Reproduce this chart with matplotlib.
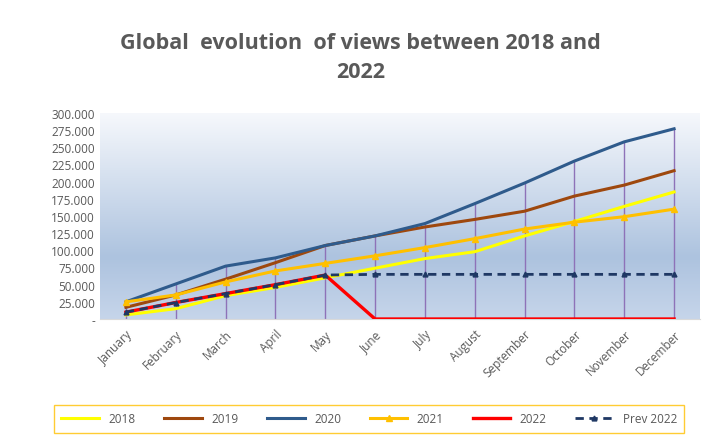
import numpy as np
import matplotlib
matplotlib.use("Agg")
import matplotlib.pyplot as plt
from matplotlib.colors import LinearSegmentedColormap
from matplotlib.ticker import FuncFormatter

months = ["January", "February", "March", "April", "May", "June", "July",
          "August", "September", "October", "November", "December"]

views_2018 = [6000, 15000, 34000, 46000, 60000, 74000, 88000, 98000, 121000, 142000, 164000, 185000]
views_2019 = [17000, 35000, 58000, 82000, 107000, 121000, 134000, 145000, 157000, 179000, 195000, 216000]
views_2020 = [25000, 51000, 77000, 89000, 107000, 121000, 139000, 168000, 198000, 230000, 258000, 277000]
views_2021 = [25000, 35000, 54000, 70000, 81000, 92000, 104000, 117000, 131000, 141000, 149000, 160000]
views_2022 = [10000, 24000, 37000, 50000, 64000, 0, 0, 0, 0, 0, 0, 0]
prev_2022 = [10000, 24000, 37000, 50000, 64000, 65000, 65000, 65000, 65000, 65000, 65000, 65000]

yticks = list(range(0, 300001, 25000))

grey = "#595959"
plt.rcParams["font.family"] = ["Open Sans", "DejaVu Sans"]

fig = plt.figure(figsize=(7.09, 4.39), dpi=100)
ax = fig.add_axes([100 / 709, 119 / 439, 600 / 709, 206 / 439])

x = np.arange(len(months))

# gradient background of the plot area
grad = LinearSegmentedColormap.from_list(
    "bg", [(0, "#c6d5ea"), (0.3, "#adc3df"), (1, "#f6f8fc")])
ax.imshow(np.linspace(0, 1, 256).reshape(-1, 1), cmap=grad, aspect="auto",
          extent=[-0.52, 11.52, 0, 300000], origin="lower", zorder=0)

# drop lines
tops = np.max([views_2018, views_2019, views_2020, views_2021, views_2022, prev_2022], axis=0)
ax.vlines(x, 0, tops, color="#8e72b8", lw=1, zorder=1)

ax.plot(x, views_2018, color="#ffff00", lw=2.2, label="2018", zorder=3)
ax.plot(x, views_2019, color="#9e480e", lw=2.2, label="2019", zorder=3)
ax.plot(x, views_2020, color="#2f5b8c", lw=2.2, label="2020", zorder=3)
ax.plot(x, views_2021, color="#ffc000", lw=2.2, marker="^", ms=4, label="2021", zorder=3)
ax.plot(x, views_2022, color="#ff0000", lw=2.4, label="2022", zorder=4)
ax.plot(x, prev_2022, color="#1f3864", lw=2, ls=(0, (3, 2)), marker="^", ms=3.5,
        label="Prev 2022", zorder=5)

ax.set_xlim(-0.52, 11.52)
ax.set_ylim(0, 300000)
ax.set_yticks(yticks)
ax.yaxis.set_major_formatter(FuncFormatter(
    lambda v, p: "-" if v == 0 else f"{int(v):,}".replace(",", ".")))
ax.set_xticks(x)
ax.set_xticklabels(months, rotation=45, ha="right", rotation_mode="anchor")
ax.tick_params(axis="both", length=0, labelsize=8.5, colors=grey)
ax.tick_params(axis="x", pad=6)
for s in ["top", "right", "left"]:
    ax.spines[s].set_visible(False)
ax.spines["bottom"].set_color("#d9d9d9")

fig.text(0.508, 0.868, "Global  evolution  of views between 2018 and\n2022",
         ha="center", va="center", fontsize=15.5, fontweight="bold", color=grey,
         linespacing=1.55)

leg = fig.legend(loc="center", bbox_to_anchor=(48 / 709, 3 / 439, 642 / 709, 32 / 439),
                 mode="expand", ncol=6, fontsize=8.5, frameon=True, fancybox=False,
                 handlelength=3.2, borderpad=0.6)
leg.get_frame().set_edgecolor("#ffc000")
leg.get_frame().set_linewidth(1)
for t in leg.get_texts():
    t.set_color(grey)

fig.savefig("out.png", dpi=100)
